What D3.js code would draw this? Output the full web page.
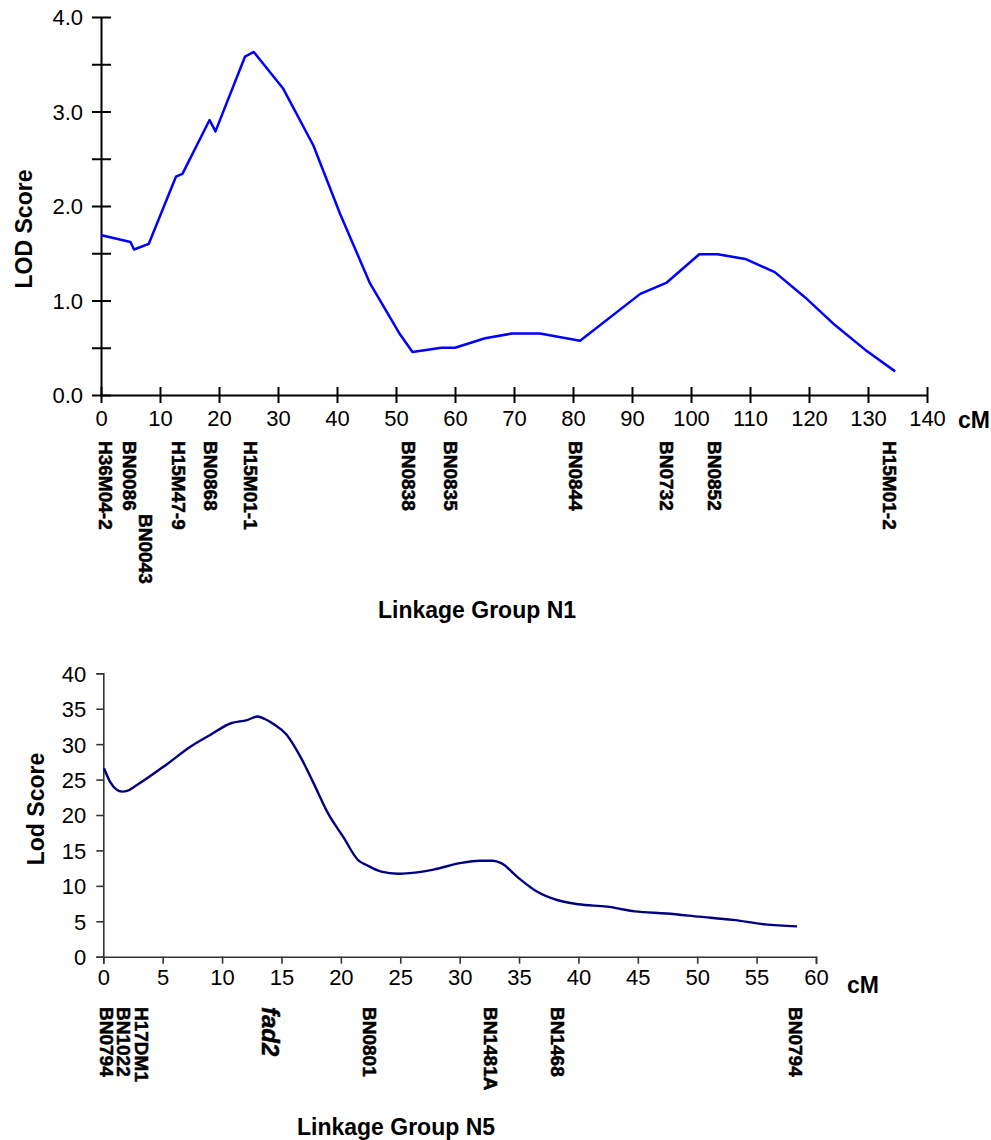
<!DOCTYPE html>
<html>
<head>
<meta charset="utf-8">
<script src="https://cdn.jsdelivr.net/npm/d3@7"></script>
<style>
  body { margin: 0; background: #fff; }
  text { font-family: "Liberation Sans", Arial, sans-serif; }
</style>
</head>
<body>
<svg id="viz"></svg>
<script>
var width = 991;
var height = 1140;

// Linkage group N1 - LOD profile
var n1Pos = [0.1, 5.0, 5.6, 8.1, 12.7, 13.8, 18.4, 19.4, 24.4, 25.9, 30.9, 36.0, 40.5, 45.6, 50.7,
             52.8, 57.7, 60.0, 65.1, 69.6, 74.4, 81.2, 91.4, 95.9, 101.4, 104.5, 109.2, 114.2,
             119.3, 124.4, 129.5, 134.6];
var n1Lod = [1.69, 1.62, 1.54, 1.60, 2.31, 2.34, 2.91, 2.79, 3.58, 3.63, 3.24, 2.64, 1.92, 1.18, 0.64,
             0.455, 0.50, 0.50, 0.60, 0.65, 0.65, 0.575, 1.07, 1.19, 1.49, 1.49, 1.44, 1.30,
             1.035, 0.74, 0.48, 0.25];
var n1Markers = ["H36M04-2", "BN0086", "BN0043", "H15M47-9", "BN0868", "H15M01-1",
                 "BN0838", "BN0835", "BN0844", "BN0732", "BN0852", "H15M01-2"];
var n1MarkerPos = [0.7, 4.9, 7.5, 13.1, 18.5, 25.3, 52.1, 59.2, 80.5, 95.8, 103.9, 133.7];
var n1XTicks = [0, 10, 20, 30, 40, 50, 60, 70, 80, 90, 100, 110, 120, 130, 140];
var n1YTicks = [0, 0.5, 1, 1.5, 2, 2.5, 3, 3.5, 4];

// Linkage group N5 - LOD profile
var n5Pos = [0.06, 0.6, 1.1, 1.6, 2.0, 2.8, 5.3, 7.3, 9.0, 10.75, 12.1, 13.0, 13.6, 14.45, 15.4,
             16.6, 17.7, 18.9, 20.2, 21.5, 22.2, 23.4, 24.8, 25.8, 27.8, 30.0, 31.7, 32.8, 33.5,
             34.9, 36.5, 38.2, 40.0, 42.4, 44.75, 47.4, 50.2, 53.0, 55.7, 58.4];
var n5Lod = [26.6, 24.6, 23.6, 23.3, 23.4, 24.2, 27.1, 29.6, 31.3, 32.95, 33.4, 33.9, 33.55, 32.7, 31.4,
             28.2, 24.5, 20.3, 16.9, 13.55, 12.9, 12.0, 11.7, 11.8, 12.3, 13.2, 13.55, 13.55, 13.2,
             11.2, 9.2, 8.0, 7.4, 7.06, 6.4, 6.1, 5.65, 5.2, 4.57, 4.28];
var n5Markers = ["BN0794", "BN1022", "H17DM1", "fad2", "BN0801", "BN1481A", "BN1468", "BN0794"];
var n5MarkerPos = [0.3, 1.7, 3.25, 14.1, 22.4, 32.6, 38.2, 58.3];
var n5XTicks = [0, 5, 10, 15, 20, 25, 30, 35, 40, 45, 50, 55, 60];
var n5YTicks = [0, 5, 10, 15, 20, 25, 30, 35, 40];

var svg = d3.select("#viz")
    .attr("width", width)
    .attr("height", height);

// ---------- top chart ----------
var top1 = svg.append("g");
var x1 = d3.scaleLinear().domain([0, 140]).range([101, 927]);
var y1 = d3.scaleLinear().domain([0, 4]).range([395, 17]);

var yAxis1 = d3.axisLeft(y1)
    .tickValues(n1YTicks)
    .tickSize(0)
    .tickPadding(18)
    .tickFormat(function (d) { return d % 1 === 0 ? d3.format(".1f")(d) : ""; });

var gy1 = top1.append("g")
    .attr("transform", "translate(" + x1(0) + ",0)")
    .call(yAxis1);
gy1.selectAll(".tick line").attr("x1", -9).attr("x2", 10);

var xAxis1 = d3.axisBottom(x1)
    .tickValues(n1XTicks)
    .tickSize(0)
    .tickPadding(15);

var gx1 = top1.append("g")
    .attr("transform", "translate(0," + y1(0) + ")")
    .call(xAxis1);
gx1.selectAll(".tick line").attr("y1", -8).attr("y2", 8);

[gy1, gx1].forEach(function (g) {
    g.select(".domain").attr("stroke", "#000").attr("stroke-width", 2);
    g.selectAll(".tick line").attr("stroke", "#000").attr("stroke-width", 2);
    g.selectAll(".tick text").attr("fill", "#000").style("font-size", "22px");
});
gy1.selectAll(".tick text").attr("dy", "0.36em");

top1.append("path")
    .datum(d3.zip(n1Pos, n1Lod))
    .attr("fill", "none")
    .attr("stroke", "#0000ff")
    .attr("stroke-width", 2.5)
    .attr("stroke-linejoin", "round")
    .attr("d", d3.line()
        .x(function (d) { return x1(d[0]); })
        .y(function (d) { return y1(d[1]); }));

top1.selectAll("text.marker")
    .data(n1Markers)
    .enter().append("text")
    .attr("class", "marker")
    .attr("transform", function (d, i) {
        var yy = d === "BN0043" ? 514 : 441;
        return "translate(" + x1(n1MarkerPos[i]) + "," + yy + ") rotate(90)";
    })
    .attr("dominant-baseline", "central")
    .attr("stroke", "#000")
    .attr("stroke-width", 0.5)
    .style("font-size", "19px")
    .style("font-weight", "bold")
    .text(function (d) { return d; });

top1.append("text")
    .attr("transform", "translate(24,229) rotate(-90)")
    .attr("text-anchor", "middle")
    .attr("dominant-baseline", "central")
    .style("font-size", "23px")
    .style("font-weight", "bold")
    .text("LOD Score");

top1.append("text")
    .attr("x", 958).attr("y", 428)
    .style("font-size", "23px")
    .style("font-weight", "bold")
    .text("cM");

top1.append("text")
    .attr("x", 477).attr("y", 618)
    .attr("text-anchor", "middle")
    .style("font-size", "23px")
    .style("font-weight", "bold")
    .text("Linkage Group N1");

// ---------- bottom chart ----------
var bot = svg.append("g");
var x5 = d3.scaleLinear().domain([0, 60]).range([103.3, 816]);
var y5 = d3.scaleLinear().domain([0, 40]).range([956.7, 673.3]);

var gy5 = bot.append("g")
    .attr("transform", "translate(" + x5(0) + ",0)")
    .call(d3.axisLeft(y5).tickValues(n5YTicks).tickSize(7).tickPadding(10));

var gx5 = bot.append("g")
    .attr("transform", "translate(0," + y5(0) + ")")
    .call(d3.axisBottom(x5).tickValues(n5XTicks).tickSize(7).tickPadding(6));

[gy5, gx5].forEach(function (g) {
    g.select(".domain").attr("stroke", "#333").attr("stroke-width", 1.6);
    g.selectAll(".tick line").attr("stroke", "#333").attr("stroke-width", 1.6);
    g.selectAll(".tick text").attr("fill", "#000").style("font-size", "22px");
});
gy5.selectAll(".tick text").attr("dy", "0.36em");

bot.append("path")
    .datum(d3.zip(n5Pos, n5Lod))
    .attr("fill", "none")
    .attr("stroke", "#000080")
    .attr("stroke-width", 2.4)
    .attr("d", d3.line()
        .curve(d3.curveMonotoneX)
        .x(function (d) { return x5(d[0]); })
        .y(function (d) { return y5(d[1]); }));

bot.selectAll("text.marker")
    .data(n5Markers)
    .enter().append("text")
    .attr("class", "marker")
    .attr("transform", function (d, i) {
        return "translate(" + x5(n5MarkerPos[i]) + ",1007) rotate(90)";
    })
    .attr("dominant-baseline", "central")
    .attr("stroke", "#000")
    .attr("stroke-width", 0.5)
    .style("font-size", function (d) { return d === "fad2" ? "24px" : "19px"; })
    .style("font-weight", "bold")
    .style("font-style", function (d) { return d === "fad2" ? "italic" : "normal"; })
    .text(function (d) { return d; });

bot.append("text")
    .attr("transform", "translate(36,809) rotate(-90)")
    .attr("text-anchor", "middle")
    .attr("dominant-baseline", "central")
    .style("font-size", "23px")
    .style("font-weight", "bold")
    .text("Lod Score");

bot.append("text")
    .attr("x", 847).attr("y", 993)
    .style("font-size", "23px")
    .style("font-weight", "bold")
    .text("cM");

bot.append("text")
    .attr("x", 396).attr("y", 1135)
    .attr("text-anchor", "middle")
    .style("font-size", "23px")
    .style("font-weight", "bold")
    .text("Linkage Group N5");
</script>
</body>
</html>
